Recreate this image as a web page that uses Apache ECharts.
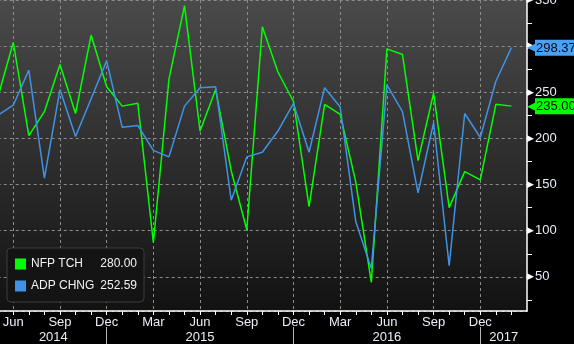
<!DOCTYPE html>
<html><head><meta charset="utf-8">
<script src="https://cdn.jsdelivr.net/npm/echarts@6/dist/echarts.min.js"></script>
<style>html,body{margin:0;padding:0;background:#000}#c{width:574px;height:344px}</style>
</head><body><div id="c"></div>
<script>
// ---- data ----
const months = ['2014-05','2014-06','2014-07','2014-08','2014-09','2014-10','2014-11','2014-12',
  '2015-01','2015-02','2015-03','2015-04','2015-05','2015-06','2015-07','2015-08','2015-09','2015-10','2015-11','2015-12',
  '2016-01','2016-02','2016-03','2016-04','2016-05','2016-06','2016-07','2016-08','2016-09','2016-10','2016-11','2016-12',
  '2017-01','2017-02','2017-03'];
const monthNames = ['Jan','Feb','Mar','Apr','May','Jun','Jul','Aug','Sep','Oct','Nov','Dec'];
const nfp = [244,304,203,229,280,227,312,256,
  235,238,87,264,344,208,253,165,101,321,272,240,
  126,237,226,153,44,297,291,176,249,125,164,155,
  237,235,null];
const adp = [225,236,274,157,253,202,243,284,
  212,214,187,180,235,255,256,133,180,185,208,238,
  185,255,234,110,59,258,229,141,217,62,227,201,
  262,298.37,null];
const seriesNames = ['NFP TCH','ADP CHNG'];
const legendValues = ['280.00','252.59'];
const yTicks = [50,100,150,200,250,300,350];
const years = ['2014','2015','2016','2017'];
const colors = ['#00ff00','#3f93e6'];
const tagColors = ['#00ff00','#4aa0f5'];
// ---- chart ----
const FONT = 'Liberation Sans';
const chart = echarts.init(document.getElementById('c'));
const lastIdx = months.length - 1;
const quarter = (i, v) => i < lastIdx && (+v.slice(5)) % 3 === 0;
const notLast = (i) => i < lastIdx;
const decOnly = (i, v) => v.slice(5) === '12';
function lastVal(arr){ for(let i=arr.length-1;i>=0;i--) if(arr[i]!=null) return arr[i]; }
function mkSeries(idx, data){
  const lv = lastVal(data);
  return {
    name: seriesNames[idx], type: 'line', data: data, showSymbol: false, symbol: 'none',
    lineStyle: {color: colors[idx], width: 1.5}, itemStyle: {color: colors[idx]},
    clip: true, animation: false,
    markLine: {
      silent: true, symbol: ['none','none'], animation: false,
      lineStyle: {color: 'rgba(0,0,0,0)', width: 0},
      data: [{yAxis: lv}],
      label: {
        show: true, position: 'end', distance: 0,
        formatter: () => '{a|◀}{b|' + lv.toFixed(2) + '}',
        rich: {
          a: {color: tagColors[idx], fontSize: 13, fontFamily: 'DejaVu Sans', padding: [0,-2,0,0]},
          b: {backgroundColor: tagColors[idx], color: '#0c0c0c', fontSize: 13, fontFamily: FONT,
              padding: [2,2,1,1], lineHeight: 15}
        }
      }
    }
  };
}
chart.setOption({
  backgroundColor: '#000',
  animation: false,
  grid: {left: -2.3, right: 47, top: 0, bottom: 33, show: true, borderWidth: 0,
    containLabel: false, outerBoundsMode: 'none',
    backgroundColor: {type: 'linear', x: 0, y: 0, x2: 0, y2: 1,
      colorStops: [{offset: 0, color: '#4a4a4a'}, {offset: 1, color: '#121212'}]}},
  legend: {
    orient: 'vertical', left: 7, top: 248, padding: [9,7,9,8],
    backgroundColor: '#141414', borderColor: '#3c3c3c', borderWidth: 1, borderRadius: 4,
    icon: 'rect', itemWidth: 11, itemHeight: 11, itemGap: 8, selectedMode: false,
    data: seriesNames,
    formatter: (name) => '{n|' + name + '}{v|' + legendValues[seriesNames.indexOf(name)] + '}',
    textStyle: {color: '#f2f2f2', fontFamily: FONT, fontSize: 12, lineHeight: 14,
      rich: {n: {width: 66, fontSize: 12, fontFamily: FONT, color: '#f2f2f2'},
             v: {width: 40, align: 'right', fontSize: 12, fontFamily: FONT, color: '#f2f2f2'}}}
  },
  xAxis: [{
    type: 'category', data: months, boundaryGap: false, position: 'bottom',
    axisLine: {show: true, lineStyle: {color: '#ffffff', width: 1.5}},
    axisTick: {show: true, interval: notLast, length: 4, lineStyle: {color: '#ffffff'}},
    axisLabel: {interval: quarter, color: '#e8eef6', fontSize: 13, fontFamily: FONT, margin: 5,
      formatter: (v) => monthNames[+v.slice(5) - 1]},
    splitLine: {show: true, interval: quarter, lineStyle: {color: '#8c8c8c', type: [3,3], width: 1}}
  }, {
    type: 'category', data: months, boundaryGap: false, position: 'bottom', offset: 16,
    axisLine: {show: false},
    axisTick: {show: true, interval: decOnly, length: 18, lineStyle: {color: '#b4b4b4'}},
    axisLabel: {show: false}, splitLine: {show: false}
  }],
  yAxis: {
    type: 'value', position: 'right', min: 13, max: 350,
    axisLine: {show: true, lineStyle: {color: '#ffffff', width: 1.5}},
    axisTick: {show: false},
    minorTick: {show: true, splitNumber: 2, length: 5, lineStyle: {color: '#ffffff'}},
    axisLabel: {margin: 0, color: '#e8eef6', fontFamily: FONT, fontSize: 13,
      formatter: (v) => yTicks.includes(v) ? '{t|▶}{v|' + v + '}' : '',
      rich: {t: {color: '#ffffff', fontSize: 9, fontFamily: 'DejaVu Sans', padding: [0,1,0,0]},
             v: {color: '#e8eef6', fontSize: 13, fontFamily: FONT}}},
    splitLine: {show: true, lineStyle: {color: '#8c8c8c', type: [3,3], width: 1}}
  },
  series: [mkSeries(0, nfp), mkSeries(1, adp)]
});
// year labels centred in the visible part of each year
const px = (c) => chart.convertToPixel({xAxisIndex: 0}, c);
const endX = px(months[lastIdx]);
const safe = (v, d) => (v == null || isNaN(v)) ? d : v;
const texts = years.map((y) => {
  const s = Math.max(0, safe(px((+y - 1) + '-12'), 0));
  const e = Math.min(endX, safe(px(y + '-12'), endX));
  return {type: 'text', x: (s + e) / 2, y: 337,
    style: {text: y, fill: '#e8eef6', font: '13px "' + FONT + '"', textAlign: 'center', textVerticalAlign: 'middle'}};
});
chart.setOption({graphic: texts});
</script></body></html>
